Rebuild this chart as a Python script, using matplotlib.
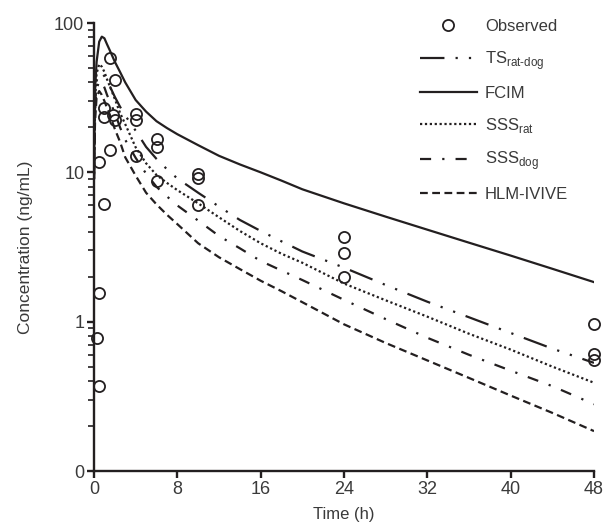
import matplotlib
matplotlib.use("Agg")
import matplotlib.pyplot as plt
from matplotlib.ticker import FixedLocator, LogLocator, NullFormatter

plt.rcParams['font.family'] = ['Liberation Sans', 'DejaVu Sans']
plt.rcParams['mathtext.fontset'] = 'custom'
plt.rcParams['mathtext.rm'] = 'Liberation Sans'

# ---- data ----
obs_t = [0.25, 0.5, 0.5, 0.5, 1.0, 1.0, 1.0, 1.5, 1.5, 1.85, 2.0, 2.0,
         4, 4, 4, 6, 6, 6, 10, 10, 10, 24, 24, 24, 48, 48, 48]
obs_c = [0.78, 1.55, 0.37, 11.7, 27.1, 23.5, 6.15, 58, 14.1, 24.2, 22.3, 41.8,
         24.5, 22.3, 12.9, 16.7, 14.7, 8.7, 9.8, 9.2, 6.0, 3.68, 2.87, 2.0, 0.97, 0.61, 0.55]

model_t = [0, 0.1, 0.25, 0.5, 0.75, 1, 1.25, 1.5, 2, 2.5, 3, 4, 5, 6, 7, 8, 10, 12,
           14, 16, 18, 20, 24, 28, 32, 36, 40, 44, 48]
fcim = [10, 35, 55, 75, 81, 79, 72, 66, 55, 47, 40, 30.5, 25.5, 22, 19.8, 18, 15.2, 12.9,
        11.3, 10.0, 8.8, 7.7, 6.2, 5.05, 4.13, 3.38, 2.77, 2.26, 1.84]
ts_ratdog = [9, 28, 41, 46, 46, 44, 41, 38, 32, 27.5, 24, 19, 14.8, 12.3, 10.5, 9.1, 7.3, 5.9,
             4.8, 4.05, 3.45, 2.95, 2.3, 1.76, 1.36, 1.07, 0.84, 0.66, 0.53]
sss_rat = [9, 30, 46, 53, 51, 47, 42, 38, 31, 25, 21, 14.7, 11.5, 9.6, 8.5, 7.6, 6.2, 5.0,
           4.05, 3.35, 2.85, 2.48, 1.8, 1.39, 1.08, 0.83, 0.65, 0.5, 0.39]
sss_dog = [9, 26, 36, 41, 40, 37, 33, 30, 25, 20, 16.5, 12.5, 9.8, 8.0, 6.9, 6.0, 4.75, 3.75,
           3.1, 2.55, 2.2, 1.9, 1.4, 1.04, 0.78, 0.6, 0.47, 0.37, 0.28]
hlm_ivive = [9, 22, 32, 35, 33, 30, 27, 24.5, 19.5, 16, 12.6, 9.5, 7.3, 6.1, 5.2, 4.5, 3.35, 2.7,
             2.25, 1.88, 1.6, 1.35, 0.96, 0.72, 0.55, 0.42, 0.32, 0.245, 0.185]

x_ticks = [0, 8, 16, 24, 32, 40, 48]
y_ticks = [0.1, 1, 10, 100]
y_ticklabels = ['0', '1', '10', '100']

ink = '#231f20'
txt = '#3a3a3a'

fig = plt.figure(figsize=(6.07, 5.30), dpi=100)
ax = fig.add_axes([94/607, 59/530, 500/607, 448/530])

lw = 1.6
ax.plot(model_t, ts_ratdog, color=ink, lw=lw, dashes=(11, 5, 1, 5, 1, 5),
        label='TS$_{\\text{rat-dog}}$')
ax.plot(model_t, fcim, color=ink, lw=lw, label='FCIM')
ax.plot(model_t, sss_rat, color=ink, lw=lw, dashes=(1, 1.2), label='SSS$_{\\text{rat}}$')
ax.plot(model_t, sss_dog, color=ink, lw=lw, dashes=(5, 5, 1, 5), label='SSS$_{\\text{dog}}$')
ax.plot(model_t, hlm_ivive, color=ink, lw=lw, dashes=(3.5, 2), label='HLM-IVIVE')
ax.plot(obs_t, obs_c, linestyle='none', marker='o', ms=8, mfc='none', mec=ink,
        mew=1.3, label='Observed', clip_on=False)

ax.set_yscale('log')
ax.set_xlim(0, 48)
ax.set_ylim(0.1, 100)
ax.xaxis.set_major_locator(FixedLocator(x_ticks))
ax.yaxis.set_major_locator(FixedLocator(y_ticks))
ax.set_yticklabels(y_ticklabels)
ax.yaxis.set_minor_locator(LogLocator(base=10, subs=range(2, 10)))
ax.yaxis.set_minor_formatter(NullFormatter())

for s in ['top', 'right']:
    ax.spines[s].set_visible(False)
for s in ['left', 'bottom']:
    ax.spines[s].set_linewidth(1.7)
    ax.spines[s].set_color(ink)
ax.tick_params(axis='both', which='major', direction='out', length=5, width=1.7,
               colors=ink, labelsize=13, labelcolor=txt, pad=2)
ax.tick_params(axis='y', which='minor', direction='out', length=4, width=1.2, colors=ink)

ax.set_xlabel('Time (h)', fontsize=12, color=txt, labelpad=7)
ax.set_ylabel('Concentration (ng/mL)', fontsize=12.5, color=txt, labelpad=15)

h, l = ax.get_legend_handles_labels()
order = [5, 0, 1, 2, 3, 4]
leg = fig.legend([h[i] for i in order], [l[i] for i in order], loc='upper left',
                 bbox_to_anchor=(405/607, 1 - 4/530), frameon=False, fontsize=12,
                 handlelength=3.4, labelspacing=0.88, handletextpad=0.5)
for t in leg.get_texts():
    t.set_color(txt)

fig.savefig('out.png', dpi=100)
